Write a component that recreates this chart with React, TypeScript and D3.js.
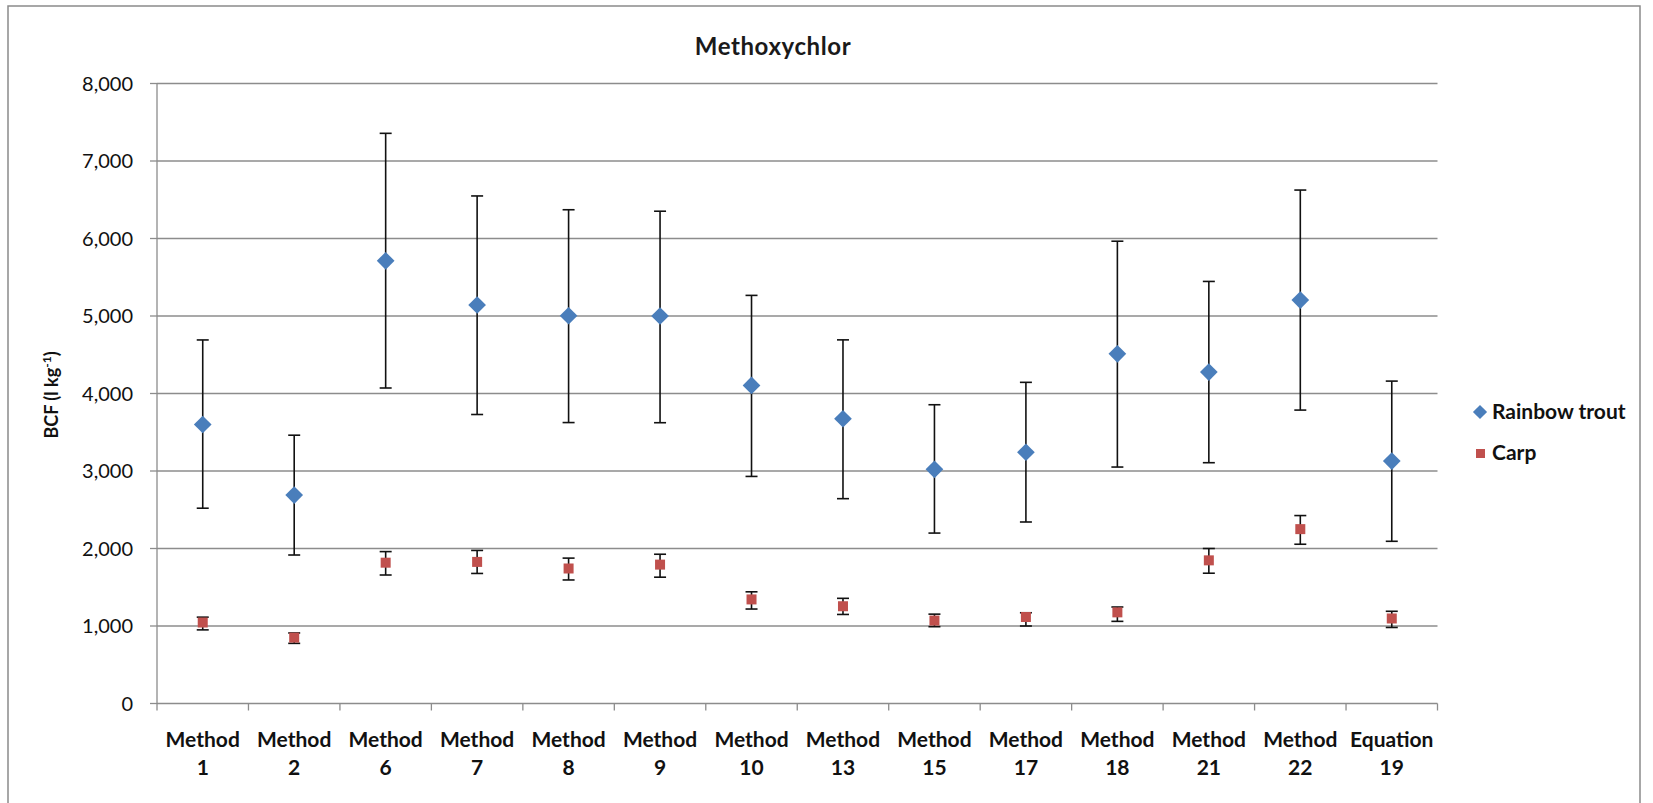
import React from "react";
import * as d3 from "d3";

const categories = ["Method|1", "Method|2", "Method|6", "Method|7", "Method|8", "Method|9", "Method|10", "Method|13", "Method|15", "Method|17", "Method|18", "Method|21", "Method|22", "Equation|19"];
const troutValues = [3600, 2690, 5712, 5142, 5003, 5000, 4104, 3674, 3022, 3242, 4512, 4276, 5205, 3128];
const troutHigh = [4691, 3462, 7357, 6549, 6371, 6352, 5266, 4692, 3855, 4144, 5965, 5446, 6625, 4160];
const troutLow = [2520, 1916, 4071, 3729, 3625, 3623, 2930, 2643, 2199, 2342, 3051, 3107, 3786, 2093];
const carpValues = [1045, 850, 1817, 1827, 1742, 1792, 1343, 1255, 1070, 1116, 1176, 1847, 2250, 1097];
const carpHigh = [1114, 910, 1960, 1975, 1876, 1926, 1441, 1357, 1153, 1171, 1245, 2000, 2425, 1190];
const carpLow = [950, 776, 1658, 1678, 1594, 1630, 1219, 1149, 991, 1000, 1060, 1681, 2055, 981];
const yTicks = [0, 1000, 2000, 3000, 4000, 5000, 6000, 7000, 8000];
const seriesNames = ["Rainbow trout", "Carp"];

const W = 1653, H = 803;
const left = 157, right = 1437.5, top = 83.5, bottom = 703.5;
const FONT = "Lato, 'Open Sans', sans-serif";
const BLUE = "#4a7ebb";
const RED = "#c0504d";
const GRID = "#8c8c8c";

export default function App() {
  const x = d3.scaleBand<string>().domain(categories).range([left, right]).padding(0);
  const y = d3.scaleLinear().domain([0, 8000]).range([bottom, top]);
  const cx = (c: string) => (x(c) as number) + x.bandwidth() / 2;
  const fmt = d3.format(",");
  const diamond = d3.symbol().type(d3.symbolDiamond2).size(200)();
  const capW = 6;

  const errBar = (c: string, lo: number, hi: number, key: string) => (
    <g key={key} stroke="#111" strokeWidth={1.6} fill="none">
      <line x1={cx(c)} x2={cx(c)} y1={y(lo)} y2={y(hi)} />
      <line x1={cx(c) - capW} x2={cx(c) + capW} y1={y(lo)} y2={y(lo)} />
      <line x1={cx(c) - capW} x2={cx(c) + capW} y1={y(hi)} y2={y(hi)} />
    </g>
  );

  const boundaries = d3.range(categories.length + 1).map((i) => left + i * x.bandwidth());

  return (
    <svg width={W} height={H} style={{ position: "absolute", left: 0, top: 0, background: "#fff" }} fontFamily={FONT}>
      <rect x={8} y={6} width={1632} height={820} fill="#fff" stroke="#8a8a8a" strokeWidth={1.5} />
      <text x={773} y={55} textAnchor="middle" fontSize={24} fontWeight={700} letterSpacing={0.6} fill="#1a1a1a">Methoxychlor</text>

      {yTicks.map((t) => (
        <g key={"g" + t}>
          <line x1={left} x2={right} y1={y(t)} y2={y(t)} stroke={GRID} strokeWidth={1.3} />
          <line x1={left - 7} x2={left} y1={y(t)} y2={y(t)} stroke={GRID} strokeWidth={1.3} />
          <text x={133} y={y(t) + 7} textAnchor="end" fontSize={20} fill="#111">{fmt(t)}</text>
        </g>
      ))}
      <line x1={left} x2={left} y1={top} y2={bottom} stroke={GRID} strokeWidth={1.3} />
      {boundaries.map((b, i) => (
        <line key={"b" + i} x1={b} x2={b} y1={bottom} y2={bottom + 7} stroke={GRID} strokeWidth={1.3} />
      ))}

      {categories.map((c) => {
        const [a, b] = c.split("|");
        return (
          <text key={"l" + c} textAnchor="middle" fontSize={21} fontWeight={700} fill="#111">
            <tspan x={cx(c)} y={747}>{a}</tspan>
            <tspan x={cx(c)} y={775}>{b}</tspan>
          </text>
        );
      })}

      <text transform="translate(58,395) rotate(-90)" textAnchor="middle" fontSize={18} fontWeight={700} fill="#111">
        BCF (l kg<tspan dy={-7} fontSize={12}>-1</tspan><tspan dy={7}>)</tspan>
      </text>

      {categories.map((c, i) => errBar(c, troutLow[i], troutHigh[i], "te" + i))}
      {categories.map((c, i) => errBar(c, carpLow[i], carpHigh[i], "ce" + i))}
      {categories.map((c, i) => (
        <path key={"td" + i} d={diamond as string} transform={`translate(${cx(c)},${y(troutValues[i])})`} fill={BLUE} />
      ))}
      {categories.map((c, i) => (
        <rect key={"cs" + i} x={cx(c) - 5} y={y(carpValues[i]) - 5} width={10} height={10} fill={RED} />
      ))}

      <path d={diamond as string} transform="translate(1480,412) scale(0.8)" fill={BLUE} />
      <text x={1492} y={419} fontSize={21} fontWeight={700} fill="#111">{seriesNames[0]}</text>
      <rect x={1476} y={449} width={9} height={9} fill={RED} />
      <text x={1492} y={460} fontSize={21} fontWeight={700} fill="#111">{seriesNames[1]}</text>
    </svg>
  );
}
